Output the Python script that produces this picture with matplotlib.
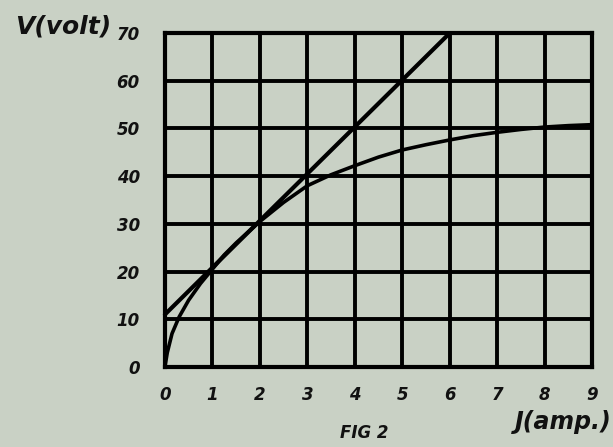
import matplotlib
matplotlib.use("Agg")
import matplotlib.pyplot as plt
import numpy as np

# straight characteristic (V against J)
line_J = [0, 6]
line_V = [11, 70]

# curved characteristic
curve_J = [0, 0.05, 0.15, 0.3, 0.5, 0.75, 1, 1.25, 1.5, 2, 2.5, 3, 3.5, 4, 4.5, 5, 5.5, 6, 6.5, 7, 7.5, 8, 8.5, 9]
curve_V = [0, 3, 7, 10.5, 14, 17.5, 20.5, 23.5, 26, 30.5, 34.5, 38, 40.3, 42.2, 44, 45.5, 46.6, 47.6, 48.5, 49.2, 49.8, 50.3, 50.6, 50.8]

x_ticks = list(range(0, 10))
y_ticks = list(range(0, 80, 10))

bg = '#c9d1c5'
font = dict(fontweight='bold', fontstyle='italic', color='#111111')

fig = plt.figure(figsize=(6.13, 4.47), dpi=100, facecolor=bg)
ax = fig.add_axes([0.269, 0.179, 0.697, 0.747])
ax.set_facecolor(bg)

ax.set_xlim(0, 9)
ax.set_ylim(0, 70)
ax.set_xticks(x_ticks)
ax.set_yticks(y_ticks)
ax.grid(True, color='black', linewidth=2.8)
ax.tick_params(axis='x', length=0, pad=14, labelsize=12)
ax.tick_params(axis='y', length=0, pad=18, labelsize=12)
for lab in ax.get_xticklabels() + ax.get_yticklabels():
    lab.set_fontweight('bold')
    lab.set_fontstyle('italic')
    lab.set_color('#111111')
for s in ax.spines.values():
    s.set_linewidth(3)

ax.plot(line_J, line_V, color='black', linewidth=3, solid_capstyle='round', clip_on=False)
ax.plot(curve_J, curve_V, color='black', linewidth=2.6, solid_capstyle='round', clip_on=False)

fig.text(0.025, 0.925, 'V(volt)', fontsize=18, **font)
fig.text(0.84, 0.04, 'J(amp.)', fontsize=17, **font)
fig.text(0.555, 0.012, 'FIG 2', fontsize=12, va='bottom', **font)

fig.savefig('out.png', dpi=100, facecolor=bg)
